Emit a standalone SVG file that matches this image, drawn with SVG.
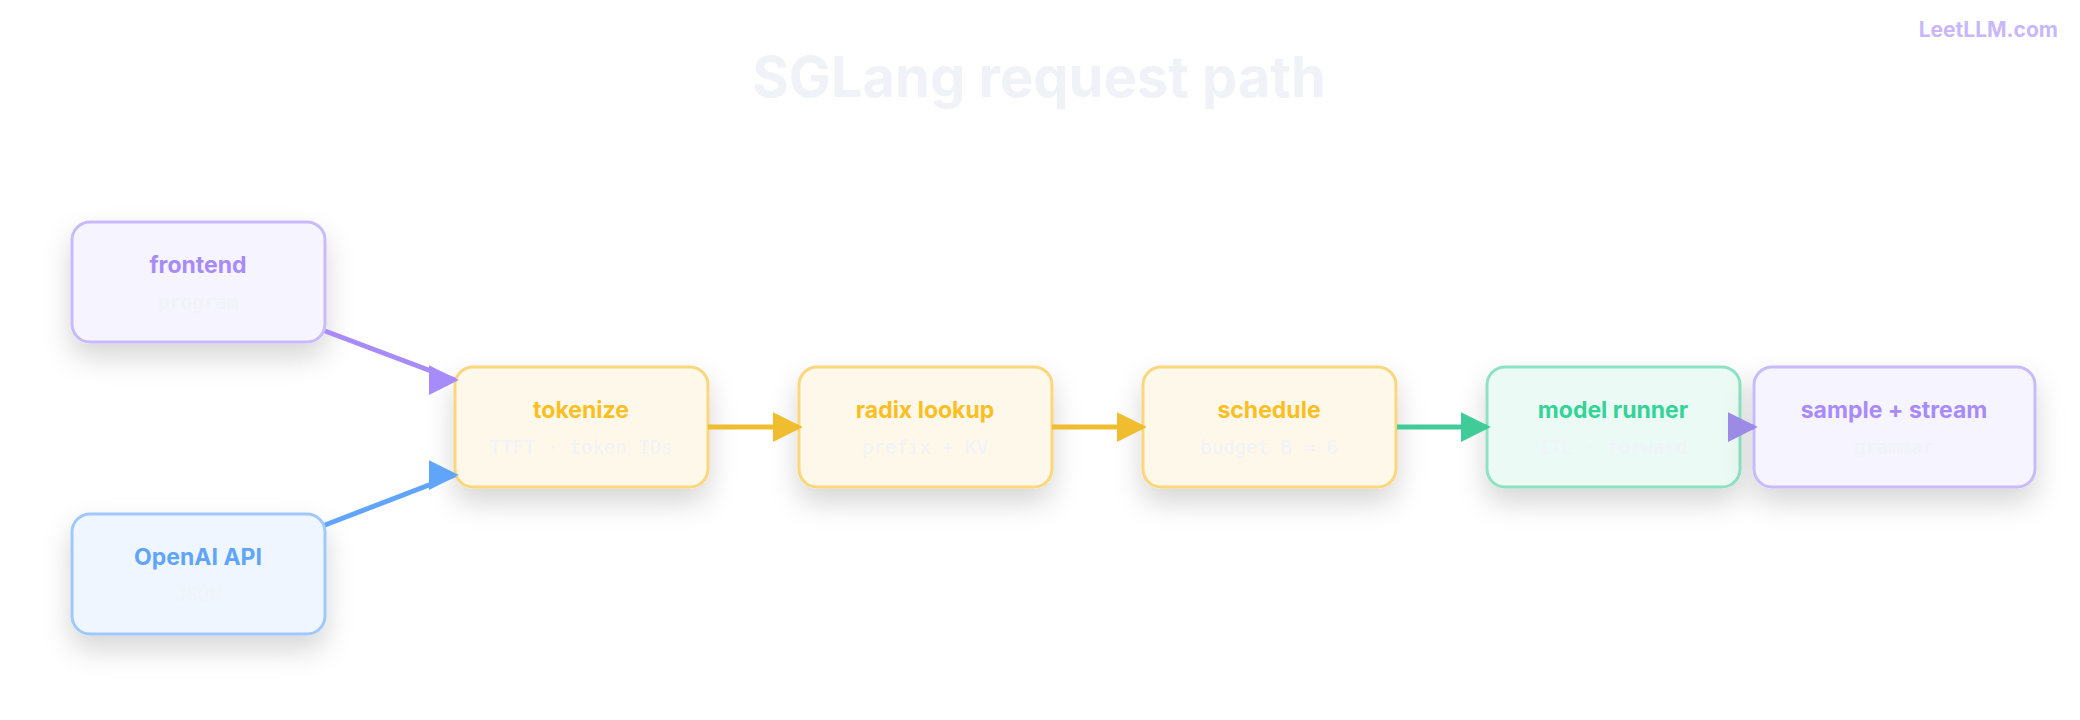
<svg xmlns="http://www.w3.org/2000/svg" width="2080" height="720" viewBox="0 0 2080 720">
<defs>
<filter id="sh" x="-30%" y="-30%" width="160%" height="180%"><feDropShadow dx="0" dy="14" stdDeviation="14" flood-color="#000" flood-opacity="0.16"/></filter>
<marker id="mb" viewBox="0 0 8 8" refX="7" refY="4" markerWidth="30" markerHeight="30" orient="0" markerUnits="userSpaceOnUse"><path d="M0,0L8,4L0,8z" fill="#60a5fa"/></marker>
<marker id="mP" viewBox="0 0 8 8" refX="7" refY="4" markerWidth="30" markerHeight="30" orient="0" markerUnits="userSpaceOnUse"><path d="M0,0L8,4L0,8z" fill="#a78bfa"/></marker>
<marker id="ma" viewBox="0 0 8 8" refX="7" refY="4" markerWidth="30" markerHeight="30" orient="auto" markerUnits="userSpaceOnUse"><path d="M0,0L8,4L0,8z" fill="#f0bc30"/></marker>
<marker id="mg" viewBox="0 0 8 8" refX="7" refY="4" markerWidth="30" markerHeight="30" orient="auto" markerUnits="userSpaceOnUse"><path d="M0,0L8,4L0,8z" fill="#40cc98"/></marker>
<marker id="mv" viewBox="0 0 8 8" refX="7" refY="4" markerWidth="30" markerHeight="30" orient="auto" markerUnits="userSpaceOnUse"><path d="M0,0L8,4L0,8z" fill="#9b8ae6"/></marker>
</defs>
<style>
.box{stroke-width:3;filter:url(#sh)}
.t{font-family:Inter,"Liberation Sans",sans-serif;font-weight:700;font-size:23px;text-anchor:middle}
.s{font-family:"DejaVu Sans Mono","Liberation Mono",monospace;font-size:19px;text-anchor:middle;fill:#f1f3f8}
.p .box{fill:#f6f4fe;stroke:#c9bafb}.p .t{fill:#a78bfa}
.b .box{fill:#eff6ff;stroke:#9fc8fb}.b .t{fill:#60a5fa}
.a .box{fill:#fef8ea;stroke:#fbd67a}.a .t{fill:#fbbf24}
.g .box{fill:#ebfaf4;stroke:#8ee2c3}.g .t{fill:#34d399}
.c{fill:none;stroke-width:5}
</style>
<rect width="2080" height="720" fill="#fff"/>
<text x="1039" y="97" font-family="Inter,'Liberation Sans',sans-serif" font-weight="700" font-size="56" text-anchor="middle" fill="#eff2f7">SGLang request path</text>
<text x="2058" y="37" font-family="Inter,'Liberation Sans',sans-serif" font-weight="700" font-size="21" text-anchor="end" fill="#c8b8fb">LeetLLM.com</text>
<g id="frontend" class="p"><rect class="box" x="72" y="222" width="253" height="120" rx="18"/><text class="t" x="198" y="273">frontend</text><text class="s" x="198" y="309">program</text></g>
<g id="openai" class="b"><rect class="box" x="72" y="514" width="253" height="120" rx="18"/><text class="t" x="198" y="565">OpenAI API</text><text class="s" x="198" y="601">JSON</text></g>
<g id="tokenize" class="a"><rect class="box" x="455" y="367" width="253" height="120" rx="18"/><text class="t" x="581" y="418">tokenize</text><text class="s" x="581" y="454">TTFT · token IDs</text></g>
<g id="radix" class="a"><rect class="box" x="799" y="367" width="253" height="120" rx="18"/><text class="t" x="925" y="418">radix lookup</text><text class="s" x="925" y="454">prefix + KV</text></g>
<g id="schedule" class="a"><rect class="box" x="1143" y="367" width="253" height="120" rx="18"/><text class="t" x="1269" y="418">schedule</text><text class="s" x="1269" y="454">budget B = 6</text></g>
<g id="runner" class="g"><rect class="box" x="1487" y="367" width="253" height="120" rx="18"/><text class="t" x="1613" y="418">model runner</text><text class="s" x="1613" y="454">ITL · forward</text></g>
<g id="sample" class="p"><rect class="box" x="1754" y="367" width="281" height="120" rx="18"/><text class="t" x="1894" y="418">sample + stream</text><text class="s" x="1894" y="454">grammar</text></g>
<g id="connectors">
<line class="c" x1="325" y1="331" x2="455" y2="380" stroke="#a78bfa" marker-end="url(#mP)"/>
<line class="c" x1="325" y1="525" x2="455" y2="475" stroke="#60a5fa" marker-end="url(#mb)"/>
<line class="c" x1="708" y1="427" x2="799" y2="427" stroke="#f0bc30" marker-end="url(#ma)"/>
<line class="c" x1="1052" y1="427" x2="1143" y2="427" stroke="#f0bc30" marker-end="url(#ma)"/>
<line class="c" x1="1397" y1="427" x2="1487" y2="427" stroke="#40cc98" marker-end="url(#mg)"/>
<line class="c" x1="1740" y1="427" x2="1754" y2="427" stroke="#9b8ae6" marker-end="url(#mv)"/>
</g>
</svg>
